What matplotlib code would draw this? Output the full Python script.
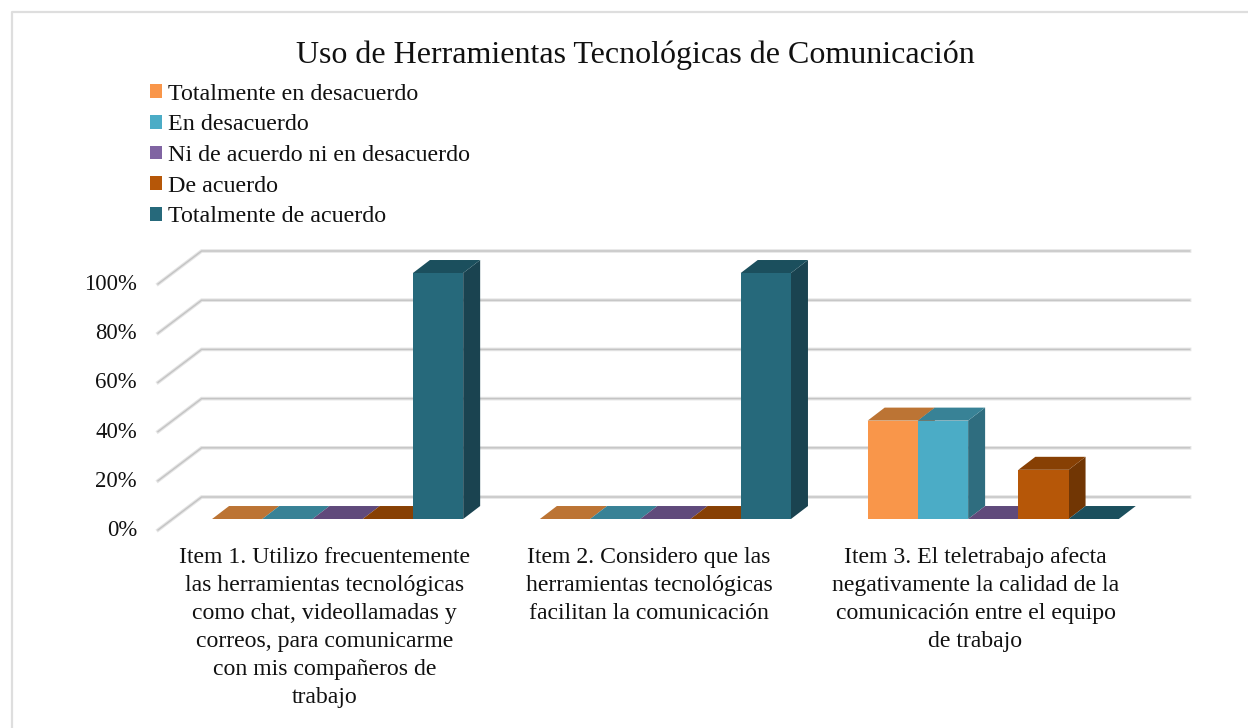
import matplotlib
matplotlib.use("Agg")
import matplotlib.pyplot as plt
from matplotlib.patches import Polygon, Rectangle

plt.rcParams["font.family"] = ["Liberation Serif", "DejaVu Serif"]

W, H = 1248, 728

items = [
    "Item 1. Utilizo frecuentemente\nlas herramientas tecnológicas\ncomo chat, videollamadas y\ncorreos, para comunicarme\ncon mis compañeros de\ntrabajo",
    "Item 2. Considero que las\nherramientas tecnológicas\nfacilitan la comunicación",
    "Item 3. El teletrabajo afecta\nnegativamente la calidad de la\ncomunicación entre el equipo\nde trabajo",
]
series_names = [
    "Totalmente en desacuerdo",
    "En desacuerdo",
    "Ni de acuerdo ni en desacuerdo",
    "De acuerdo",
    "Totalmente de acuerdo",
]
totalmente_desacuerdo = [0, 0, 40]
desacuerdo = [0, 0, 40]
neutral = [0, 0, 0]
de_acuerdo = [0, 0, 20]
totalmente_acuerdo = [100, 100, 0]
y_ticks = [0, 20, 40, 60, 80, 100]

all_series = [totalmente_desacuerdo, desacuerdo, neutral, de_acuerdo, totalmente_acuerdo]

FRONT = ["#F9964A", "#4BACC6", "#8064A2", "#B65708", "#26697B"]
TOP = ["#BC7434", "#388296", "#604A7B", "#874004", "#1B4F5D"]
SIDE = ["#B9703A", "#2F6D7F", "#4F3C67", "#713604", "#1A4350"]

BAR_W = 0.1532
DX, DY = 0.0518, 5.28
WALL_DX = 0.133
FLOOR_FRONT, FLOOR_BACK = -4.47, 8.94
X0, X1 = -0.548, 2.466
LABEL_SHIFT = [-0.041, -0.05, -0.054]

fig = plt.figure(figsize=(W / 100, H / 100), dpi=100, facecolor="white")
ax = fig.add_axes([158 / W, (H - 519) / H, 988 / W, 246 / H])
ax.patch.set_visible(False)
for s in ax.spines.values():
    s.set_visible(False)

# gridlines on the floor, left wall and back wall
for v in y_ticks:
    xs = [X0, X0 + WALL_DX, X1 + WALL_DX]
    ys = [v + FLOOR_FRONT, v + FLOOR_BACK, v + FLOOR_BACK]
    ax.plot(xs, ys, color="#e4e4e4", lw=2.6, clip_on=False, zorder=1, solid_joinstyle="miter")
    ax.plot(xs, ys, color="#c4c4c4", lw=1.0, clip_on=False, zorder=1.1, solid_joinstyle="miter")

z = 2
for i in range(len(items)):
    for j, vals in enumerate(all_series):
        v = vals[i]
        left = i + (j - 2.5) * BAR_W
        right = left + BAR_W
        if v > 0:
            ax.add_patch(Polygon([(right, 0), (right + DX, DY), (right + DX, v + DY), (right, v)],
                                 facecolor=SIDE[j], edgecolor="none", clip_on=False, zorder=z))
        ax.add_patch(Polygon([(left, v), (left + DX, v + DY), (right + DX, v + DY), (right, v)],
                             facecolor=TOP[j], edgecolor="none", clip_on=False, zorder=z + 0.1))
        ax.bar(left, v, width=BAR_W, align="edge", color=FRONT[j], clip_on=False, zorder=z + 0.2)
        z += 1

# the 0% label sits below the view, tick labels there would not be drawn
ax.set_yticks([])
for v in y_ticks:
    ax.text(-0.0213, v + FLOOR_FRONT - 0.2, f"{v}%", transform=ax.get_yaxis_transform(),
            fontsize=16.4, color="#111111", ha="right", va="center")

ax.set_xticks([i + LABEL_SHIFT[i] for i in range(len(items))])
ax.set_xticklabels(items, fontsize=17.1, color="#111111", linespacing=1.435, va="top")
ax.tick_params(axis="x", length=0, pad=20.5)

ax.set_xlim(X0, X1)
ax.set_ylim(0, 100)

handles = [Rectangle((0, 0), 1, 1, facecolor=c, edgecolor="none") for c in FRONT]
ax.legend(handles, series_names, loc="upper left", bbox_to_anchor=(145 / W, 1 - 79 / H),
          bbox_transform=fig.transFigure, frameon=False, fontsize=17.3,
          handlelength=0.5, handleheight=0.5, handletextpad=0.24, labelspacing=0.4,
          borderaxespad=0, borderpad=0.2, labelcolor="#111111")

fig.text(635 / W, 1 - 55 / H, "Uso de Herramientas Tecnológicas de Comunicación",
         fontsize=23, ha="center", va="center", color="#111111")

# chart area border
fig.add_artist(plt.Line2D([11.5 / W, 11.5 / W, 1], [0, 1 - 11.5 / H, 1 - 11.5 / H],
                          color="#dedede", lw=1.6))

fig.savefig("out.png", dpi=100, facecolor="white")
plt.close(fig)
